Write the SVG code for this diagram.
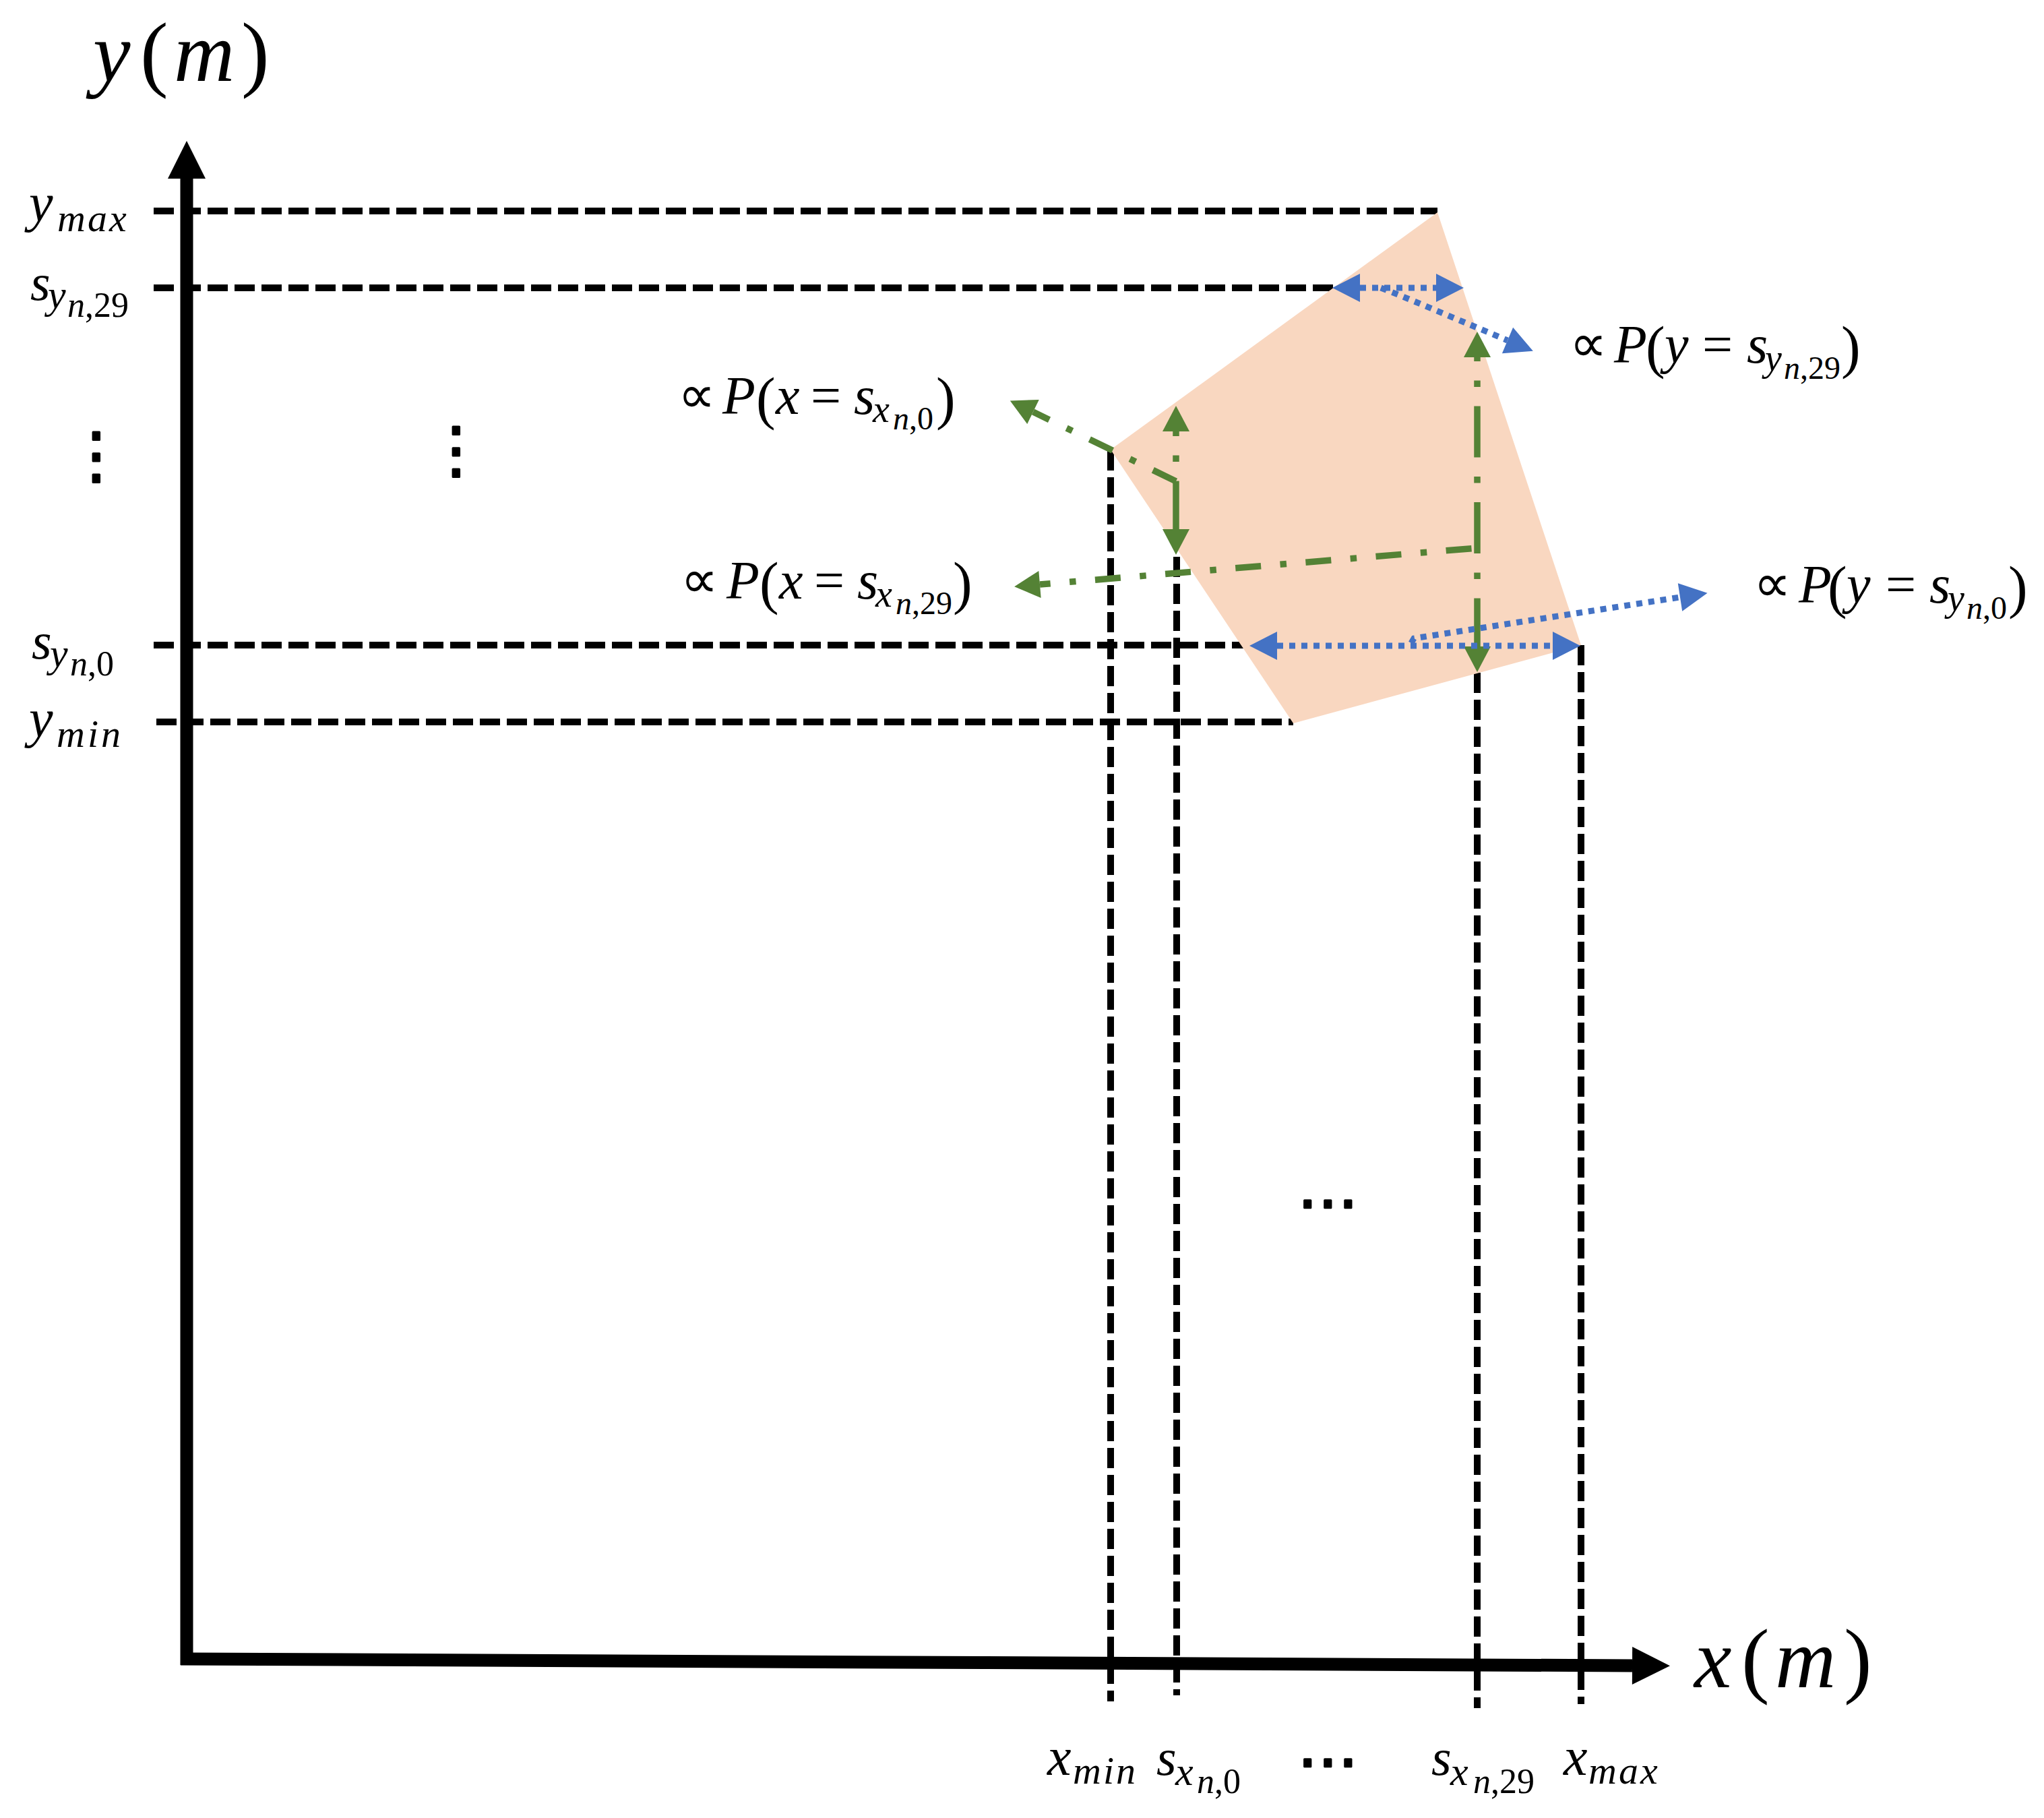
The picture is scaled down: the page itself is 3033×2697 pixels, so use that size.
<svg xmlns="http://www.w3.org/2000/svg" width="3033" height="2697" viewBox="0 0 3033 2697">
<defs>
<style>
.tx{font-family:"Liberation Serif","DejaVu Serif",serif;fill:#000}
.it{font-style:italic}
.sym{font-family:"DejaVu Sans","Liberation Serif",sans-serif;font-style:normal}
.dots{font-family:"DejaVu Sans",sans-serif;fill:#000;stroke:#000;stroke-width:3;stroke-linejoin:round}
.guide{stroke:#000;stroke-width:10;stroke-dasharray:30 10;fill:none}
.axis{stroke:#000;stroke-width:19;fill:none}
.g{stroke:#548235;stroke-width:9.5;fill:none}
.ldd{stroke-dasharray:76 28.5 9.5 28.5}
.dd{stroke-dasharray:38 28.5 9.5 28.5}
.b{stroke:#4472C4;stroke-width:9;fill:none;stroke-dasharray:9 9}
</style>
<marker id="ahk" markerUnits="userSpaceOnUse" markerWidth="56" markerHeight="56" refX="0" refY="28" orient="auto" overflow="visible"><path d="M0,0 L56,28 L0,56 z" fill="#000"/></marker>
<marker id="ahg" markerUnits="userSpaceOnUse" markerWidth="38" markerHeight="40" refX="0" refY="20" orient="auto-start-reverse" overflow="visible"><path d="M0,0 L38,20 L0,40 z" fill="#548235"/></marker>
<marker id="ahb" markerUnits="userSpaceOnUse" markerWidth="41" markerHeight="42" refX="0" refY="21" orient="auto-start-reverse" overflow="visible"><path d="M0,0 L41,21 L0,42 z" fill="#4472C4"/></marker>
</defs>
<rect width="3033" height="2697" fill="#fff"/>

<g id="guides">
<line class="guide" x1="228" y1="313" x2="2133" y2="313"/>
<line class="guide" x1="228" y1="427" x2="1980" y2="427"/>
<line class="guide" x1="228" y1="957" x2="1856" y2="957"/>
<line class="guide" x1="232" y1="1071" x2="1919" y2="1071"/>
<line class="guide" x1="1648" y1="668" x2="1648" y2="2524"/>
<line class="guide" x1="1746" y1="826" x2="1746" y2="2515"/>
<line class="guide" x1="2192" y1="998" x2="2192" y2="2534"/>
<line class="guide" x1="2346" y1="957" x2="2346" y2="2528"/>
</g>

<g id="region">
<polygon points="2133,315 2346,957 1919,1073 1648,667" fill="#F9D7C0"/>
</g>

<g id="axes">
<line class="axis" x1="277" y1="2470" x2="277" y2="265" marker-end="url(#ahk)"/>
<line class="axis" x1="268" y1="2461" x2="2422" y2="2471" marker-end="url(#ahk)"/>
</g>

<g id="connectors">
<line class="g ldd" x1="1745" y1="640" x2="1745" y2="785" stroke-dashoffset="69" marker-start="url(#ahg)" marker-end="url(#ahg)"/>
<line class="g dd" x1="1745" y1="714" x2="1533" y2="611" marker-end="url(#ahg)"/>
<line class="g ldd" x1="2192" y1="530" x2="2192" y2="959" stroke-dashoffset="70" marker-start="url(#ahg)" marker-end="url(#ahg)"/>
<line class="g dd" x1="2192" y1="813" x2="1543" y2="867" stroke-dashoffset="96" marker-end="url(#ahg)"/>
<line class="b" x1="2018" y1="427" x2="2131" y2="427" marker-start="url(#ahb)" marker-end="url(#ahb)"/>
<polyline class="b" points="2049,427 2077,438 2237,505" marker-end="url(#ahb)"/>
<line class="b" x1="1895" y1="958" x2="2304" y2="958" marker-start="url(#ahb)" marker-end="url(#ahb)"/>
<polyline class="b" points="2094,954 2098,947 2493,886" marker-end="url(#ahb)"/>
</g>

<g id="axis-titles">
<text class="tx" font-size="125"><tspan class="it" x="138" y="120">y</tspan><tspan x="208" y="120">(</tspan><tspan class="it" x="258" y="120">m</tspan><tspan x="358" y="120">)</tspan></text>
<text class="tx" font-size="125"><tspan class="it" x="2514" y="2503">x</tspan><tspan x="2584" y="2503">(</tspan><tspan class="it" x="2634" y="2503">m</tspan><tspan x="2736" y="2503">)</tspan></text>
</g>

<g id="y-labels">
<text class="tx"><tspan class="it" x="43" y="328" font-size="80">y</tspan><tspan class="it" x="85" y="343" font-size="58" letter-spacing="3">max</tspan></text>
<text class="tx"><tspan class="it" x="45" y="445" font-size="76">s</tspan><tspan class="it" x="71" y="457" font-size="60">y</tspan><tspan class="it" x="100" y="470" font-size="52">n</tspan><tspan font-size="52">,29</tspan></text>
<text class="tx"><tspan class="it" x="47" y="977" font-size="76">s</tspan><tspan class="it" x="74" y="989" font-size="60">y</tspan><tspan class="it" x="104" y="1002" font-size="52">n</tspan><tspan font-size="52">,0</tspan></text>
<text class="tx"><tspan class="it" x="43" y="1093" font-size="80">y</tspan><tspan class="it" x="84" y="1108" font-size="58" letter-spacing="4">min</tspan></text>
<text class="dots" font-size="92" text-anchor="middle" x="143" y="707">⋮</text>
<text class="dots" font-size="92" text-anchor="middle" x="677" y="699">⋮</text>
</g>

<g id="x-labels">
<text class="tx"><tspan class="it" x="1554" y="2633" font-size="80">x</tspan><tspan class="it" x="1592" y="2646" font-size="58" letter-spacing="3">min</tspan></text>
<text class="tx"><tspan class="it" x="1716" y="2633" font-size="76">s</tspan><tspan class="it" x="1744" y="2648" font-size="60">x</tspan><tspan class="it" x="1776" y="2660" font-size="52">n</tspan><tspan font-size="52">,0</tspan></text>
<text class="dots" font-size="90" text-anchor="middle" x="1970" y="2643">⋯</text>
<text class="tx"><tspan class="it" x="2124" y="2633" font-size="76">s</tspan><tspan class="it" x="2152" y="2648" font-size="60">x</tspan><tspan class="it" x="2186" y="2660" font-size="52">n</tspan><tspan font-size="52">,29</tspan></text>
<text class="tx"><tspan class="it" x="2320" y="2633" font-size="80">x</tspan><tspan class="it" x="2357" y="2646" font-size="58" letter-spacing="3">max</tspan></text>
<text class="dots" font-size="90" text-anchor="middle" x="1970" y="1814">⋯</text>
</g>

<g id="prob-labels">
<text class="tx" font-size="80"><tspan class="sym" x="1006" y="612" font-size="78">∝</tspan><tspan class="it" x="1072" y="614">P</tspan><tspan x="1122" y="620" font-size="86">(</tspan><tspan class="it" x="1151" y="614">x</tspan><tspan x="1203" y="614">=</tspan><tspan class="it" x="1267" y="614">s</tspan><tspan class="it" x="1295" y="626" font-size="56">x</tspan><tspan class="it" x="1325" y="637" font-size="48">n</tspan><tspan font-size="48">,0</tspan><tspan x="1389" y="620" font-size="86">)</tspan></text>
<text class="tx" font-size="80"><tspan class="sym" x="1010" y="886" font-size="78">∝</tspan><tspan class="it" x="1078" y="888">P</tspan><tspan x="1127" y="894" font-size="86">(</tspan><tspan class="it" x="1156" y="888">x</tspan><tspan x="1208" y="888">=</tspan><tspan class="it" x="1272" y="888">s</tspan><tspan class="it" x="1299" y="900" font-size="56">x</tspan><tspan class="it" x="1329" y="911" font-size="48">n</tspan><tspan font-size="48">,29</tspan><tspan x="1414" y="894" font-size="86">)</tspan></text>
<text class="tx" font-size="80"><tspan class="sym" x="2329" y="536" font-size="78">∝</tspan><tspan class="it" x="2395" y="538">P</tspan><tspan x="2442" y="544" font-size="86">(</tspan><tspan class="it" x="2470" y="538">y</tspan><tspan x="2526" y="538">=</tspan><tspan class="it" x="2592" y="538">s</tspan><tspan class="it" x="2619" y="550" font-size="56">y</tspan><tspan class="it" x="2647" y="562" font-size="48">n</tspan><tspan font-size="48">,29</tspan><tspan x="2732" y="544" font-size="86">)</tspan></text>
<text class="tx" font-size="80"><tspan class="sym" x="2602" y="892" font-size="78">∝</tspan><tspan class="it" x="2669" y="894">P</tspan><tspan x="2712" y="900" font-size="86">(</tspan><tspan class="it" x="2740" y="894">y</tspan><tspan x="2798" y="894">=</tspan><tspan class="it" x="2863" y="894">s</tspan><tspan class="it" x="2890" y="906" font-size="56">y</tspan><tspan class="it" x="2918" y="918" font-size="48">n</tspan><tspan font-size="48">,0</tspan><tspan x="2980" y="900" font-size="86">)</tspan></text>
</g>
</svg>
